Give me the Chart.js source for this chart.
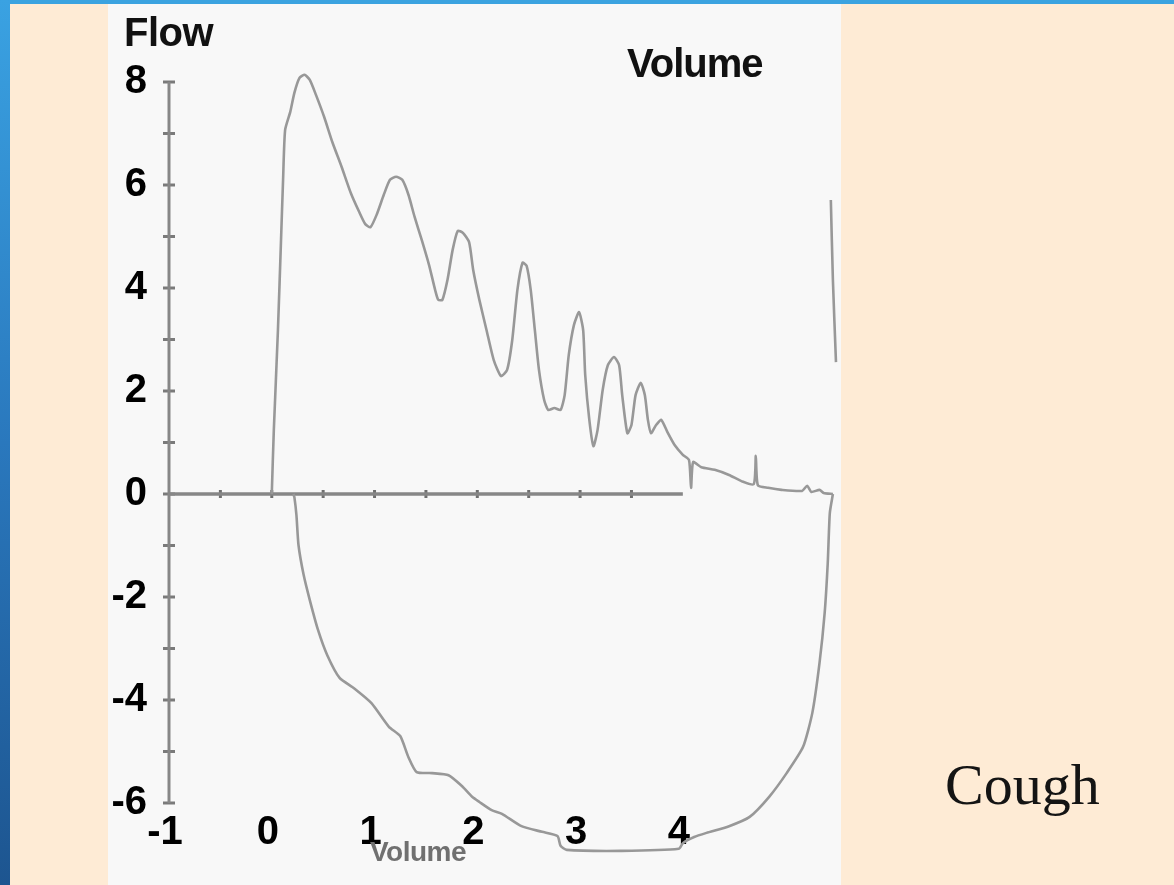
<!DOCTYPE html>
<html>
<head>
<meta charset="utf-8">
<script src="https://cdn.jsdelivr.net/npm/chart.js@4.4.1/dist/chart.umd.min.js"></script>
<style>
  html, body {
    margin: 0;
    padding: 0;
    width: 1174px;
    height: 885px;
    overflow: hidden;
    background: #feebd5;
  }
  .topbar {
    position: absolute;
    left: 0; top: 0;
    width: 1174px; height: 4px;
    background: #3ba3e0;
  }
  .sidebar {
    position: absolute;
    left: 0; top: 0;
    width: 10px; height: 885px;
    background: linear-gradient(to bottom, #3aa2e2, #2a78bd 50%, #1d5590);
  }
  .panel {
    position: absolute;
    left: 108px; top: 4px;
    width: 733px; height: 881px;
    background: #f8f8f8;
  }
  #loop {
    position: absolute;
    left: 108px; top: 4px;
  }
  .lbl {
    position: absolute;
    font-family: "Liberation Sans", Arial, sans-serif;
    font-weight: bold;
    white-space: nowrap;
    color: #111;
  }
  .flow { left: 124px; top: 12px; font-size: 40px; line-height: 40px; letter-spacing: -0.5px; }
  .vol-top { left: 627px; top: 43px; font-size: 40px; line-height: 40px; letter-spacing: -1px; }
  .vol-bottom { left: 370px; top: 838px; font-size: 28px; line-height: 28px; color: #707070; letter-spacing: -0.5px; }
  .cough {
    position: absolute;
    left: 945px; top: 756px;
    font-family: "Liberation Serif", "Times New Roman", serif;
    font-size: 58px;
    line-height: 58px;
    color: #141414;
  }
</style>
</head>
<body>
<div class="topbar"></div>
<div class="sidebar"></div>
<div class="panel"></div>
<canvas id="loop" width="738" height="881"></canvas>
<div class="lbl flow">Flow</div>
<div class="lbl vol-top">Volume</div>
<div class="lbl vol-bottom">Volume</div>
<div class="cough">Cough</div>

<script>
  // expiration: the cough with its flow bursts
  const expVolume = [0, 0.02, 0.06, 0.09, 0.11, 0.13, 0.18, 0.22, 0.27, 0.32, 0.37, 0.43, 0.51, 0.59, 0.68, 0.77, 0.85, 0.91, 0.96,
    1.02, 1.09, 1.15, 1.21, 1.27, 1.33, 1.39, 1.46, 1.53, 1.59, 1.62, 1.66, 1.71, 1.76, 1.81, 1.86, 1.92, 1.96,
    2.02, 2.09, 2.16, 2.23, 2.29, 2.34, 2.39, 2.44, 2.48, 2.52, 2.56, 2.60, 2.65, 2.69, 2.75, 2.81, 2.85, 2.89, 2.94, 2.99,
    3.03, 3.05, 3.09, 3.13, 3.17, 3.22, 3.27, 3.33, 3.38, 3.41, 3.46, 3.50, 3.54, 3.59, 3.63, 3.66, 3.69, 3.74, 3.79, 3.85, 3.92,
    4.00, 4.06, 4.08, 4.10, 4.18, 4.31, 4.45, 4.57, 4.69, 4.71, 4.73, 4.83, 4.96, 5.16, 5.21, 5.25, 5.33, 5.37, 5.46];
  const expFlow = [0, 1.24, 3.18, 4.93, 6.10, 7.07, 7.42, 7.79, 8.08, 8.14, 8.04, 7.75, 7.32, 6.83, 6.35, 5.84, 5.48, 5.24, 5.18,
    5.42, 5.81, 6.10, 6.16, 6.10, 5.81, 5.38, 4.93, 4.45, 3.96, 3.77, 3.77, 4.16, 4.74, 5.11, 5.07, 4.89, 4.35,
    3.77, 3.18, 2.60, 2.29, 2.41, 2.99, 3.96, 4.49, 4.43, 3.96, 3.18, 2.41, 1.83, 1.63, 1.67, 1.63, 1.92, 2.70, 3.28, 3.53,
    3.18, 2.31, 1.44, 0.93, 1.24, 2.02, 2.50, 2.66, 2.50, 1.92, 1.18, 1.34, 1.92, 2.16, 1.92, 1.44, 1.18, 1.34, 1.44, 1.20, 0.95,
    0.76, 0.66, 0.12, 0.62, 0.52, 0.47, 0.37, 0.25, 0.19, 0.74, 0.17, 0.12, 0.08, 0.06, 0.16, 0.04, 0.08, 0.02, 0];

  // inspiration, traced from full volume back to the start
  const inspVolume = [5.46, 5.43, 5.41, 5.38, 5.33, 5.26, 5.17, 5.01, 4.84, 4.65, 4.45, 4.23, 4.11, 4.00, 3.96, 3.40, 2.87, 2.81, 2.78,
    2.63, 2.43, 2.24, 2.14, 2.02, 1.95, 1.85, 1.72, 1.56, 1.41, 1.33, 1.25, 1.14, 0.97, 0.80, 0.66, 0.54, 0.45, 0.37, 0.31, 0.26, 0.24, 0.22, 0.21];
  const inspFlow = [0, -0.37, -1.34, -2.31, -3.28, -4.25, -4.91, -5.42, -5.88, -6.27, -6.45, -6.58, -6.66, -6.78, -6.89, -6.93, -6.91, -6.83, -6.64,
    -6.56, -6.45, -6.21, -6.14, -5.98, -5.88, -5.67, -5.46, -5.42, -5.40, -5.11, -4.70, -4.52, -4.06, -3.77, -3.57, -3.13, -2.64, -2.06, -1.57, -0.99, -0.41, -0.06, 0];

  // start of the next breath at the right edge
  const nextVolume = [5.44, 5.46, 5.49];
  const nextFlow = [5.71, 4.16, 2.56];

  const xTickLabels = [-1, 0, 1, 2, 3, 4];
  const yTickLabels = [8, 6, 4, 2, 0, -2, -4, -6];
  const yTickMarks = [-6, -5, -4, -3, -2, -1, 0, 1, 2, 3, 4, 5, 6, 7, 8];
  const xTickMarks = [-0.5, 0, 0.5, 1, 1.5, 2, 2.5, 3, 3.5];

  const pairs = (xs, ys) => xs.map((x, i) => ({ x: x, y: ys[i] }));

  const curveColor = "#989898";
  const axisColor = "#878787";

  const curve = (data) => ({
    data: data,
    showLine: true,
    borderColor: curveColor,
    borderWidth: 2.6,
    pointRadius: 0,
    tension: 0.2,
    clip: false,
  });

  const ctx = document.getElementById("loop").getContext("2d");

  new Chart(ctx, {
    type: "scatter",
    data: {
      datasets: [
        curve(pairs(expVolume, expFlow)),
        curve(pairs(inspVolume, inspFlow)),
        curve(pairs(nextVolume, nextFlow)),
        {
          // vertical flow axis
          data: [{ x: -1, y: yTickMarks[yTickMarks.length - 1] }, { x: -1, y: yTickMarks[0] }],
          showLine: true,
          borderColor: axisColor,
          borderWidth: 3,
          pointRadius: 0,
          clip: false,
        },
        {
          // zero flow line
          data: [{ x: -1, y: 0 }, { x: 4, y: 0 }],
          showLine: true,
          borderColor: axisColor,
          borderWidth: 3.5,
          pointRadius: 0,
          clip: false,
        },
        {
          data: yTickMarks.map((v) => ({ x: -1, y: v })),
          pointStyle: "line",
          pointRadius: 6,
          borderColor: "#7a7a7a",
          borderWidth: 3,
          clip: false,
        },
        {
          data: xTickMarks.map((v) => ({ x: v, y: 0 })),
          pointStyle: "line",
          pointRotation: 90,
          pointRadius: 4,
          borderColor: "#6f6f6f",
          borderWidth: 3,
          clip: false,
        },
      ],
    },
    options: {
      responsive: false,
      animation: false,
      layout: {
        padding: { left: 0, right: 0, top: 52.25, bottom: 31.7 },
      },
      plugins: {
        legend: { display: false },
        tooltip: { enabled: false },
      },
      scales: {
        x: {
          type: "linear",
          position: "bottom",
          min: -1,
          max: 5.5,
          grid: { display: false },
          border: { display: false },
          afterFit: (scale) => { scale.height = 40; },
          afterBuildTicks: (scale) => {
            scale.ticks = xTickLabels.map((v) => ({ value: v }));
          },
          ticks: {
            autoSkip: false,
            maxRotation: 0,
            padding: -12,
            labelOffset: -4,
            color: "#000",
            font: { family: "Liberation Sans", size: 40, weight: "bold" },
          },
        },
        y: {
          type: "linear",
          position: "left",
          min: -6.2,
          max: 8.5,
          grid: { display: false },
          border: { display: false },
          afterFit: (scale) => { scale.width = 61; },
          afterBuildTicks: (scale) => {
            scale.ticks = yTickLabels.map((v) => ({ value: v }));
          },
          ticks: {
            padding: 14,
            color: "#000",
            font: { family: "Liberation Sans", size: 40, weight: "bold" },
          },
        },
      },
    },
  });
</script>
</body>
</html>
